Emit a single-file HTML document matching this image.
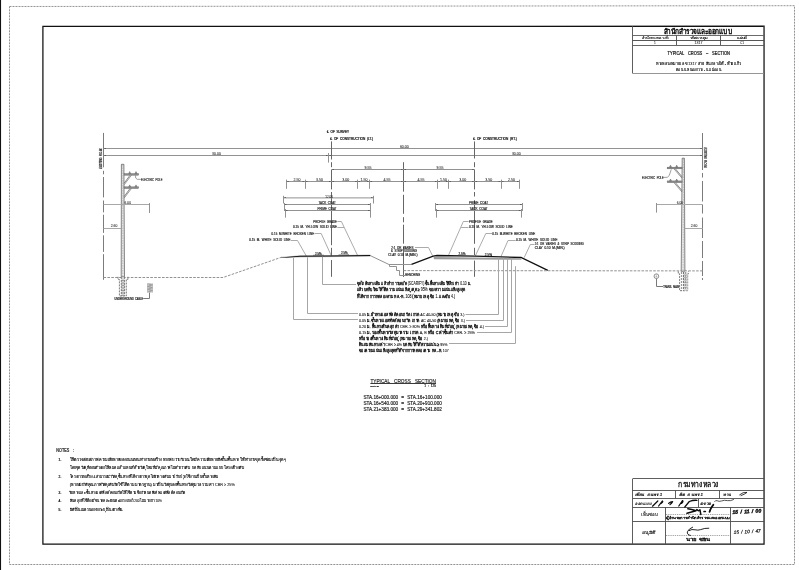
<!DOCTYPE html>
<html lang="th"><head><meta charset="utf-8"><title>Typical Cross - Section</title>
<style>
html,body{margin:0;padding:0;background:#fff;}
body{width:799px;height:570px;overflow:hidden;}
svg{display:block;will-change:transform;filter:grayscale(1);font-family:"Liberation Sans","DejaVu Sans",sans-serif;}
text{fill:#1c1c1c;stroke:#1c1c1c;stroke-width:.17px;white-space:pre;word-spacing:.9px;}
.d{stroke:#222;stroke-width:.05px;fill:#222;}
.th{fill:#111;stroke:#111;stroke-width:.26px;word-spacing:0;}
.tl{fill:#1a1a1a;stroke:#1a1a1a;stroke-width:.14px;word-spacing:0;}
.tb{fill:#111;stroke:#111;stroke-width:.1px;word-spacing:0;}
.tm{stroke-width:.22px;}
.tn{fill:#151515;stroke:#151515;stroke-width:.16px;word-spacing:0;}
.lt{stroke-width:.1px;fill:#222;}
.hw{font-style:italic;fill:#111;}
.ti{font-style:italic;fill:#111;stroke:#111;stroke-width:.2px;word-spacing:0;}
.tt{fill:#111;stroke:#111;stroke-width:.42px;word-spacing:0;}
.hw2{font-style:italic;stroke-width:.18px;}
.hb{stroke:#111;stroke-width:.4px;}
.hc{stroke:#111;stroke-width:.2px;}
</style></head><body>
<svg width="799" height="570" viewBox="0 0 799 570">
<rect x="0" y="0" width="799" height="570" fill="#fff"/>
<rect x="0" y="0" width="1.05" height="570" fill="#111"/>
<path d="M9.5 6.5 L794.5 5.7 L794.5 564.5 L9.5 564.5 Z" fill="none" stroke="#808080" stroke-width="0.85" stroke-linejoin="miter" stroke-dasharray="2 1"/>
<path d="M42.9 26.4 L764.05 26.2 L764.05 544.15 L42.9 544.15 Z" fill="none" stroke="#111" stroke-width="1.25" stroke-linejoin="miter"/>
<line x1="632.5" y1="26" x2="632.5" y2="73.4" stroke="#4c4c4c" stroke-width="0.9"/>
<line x1="632.6" y1="35.5" x2="764" y2="35.5" stroke="#5a5a5a" stroke-width="0.9"/>
<line x1="632.6" y1="40.5" x2="764" y2="40.5" stroke="#444" stroke-width="0.9"/>
<line x1="632.6" y1="45.5" x2="764" y2="45.5" stroke="#555" stroke-width="0.9"/>
<line x1="632.6" y1="73.5" x2="764" y2="73.5" stroke="#8a8a8a" stroke-width="0.9"/>
<line x1="676.5" y1="35.6" x2="676.5" y2="45" stroke="#4c4c4c" stroke-width="0.9"/>
<line x1="720.5" y1="35.6" x2="720.5" y2="45" stroke="#4c4c4c" stroke-width="0.9"/>
<text x="698.1" y="34" font-size="7.3" textLength="68.6" lengthAdjust="spacingAndGlyphs" text-anchor="middle" class="tt">สำนักสำรวจและออกแบบ</text>
<text x="655" y="39.4" font-size="3.6" textLength="26" lengthAdjust="spacingAndGlyphs" text-anchor="middle" class="tl">สำนักทางหลวงที่</text>
<text x="698.5" y="39.4" font-size="3.6" textLength="18" lengthAdjust="spacingAndGlyphs" text-anchor="middle" class="tl">รหัสควบคุม</text>
<text x="742" y="39.4" font-size="3.6" textLength="9.5" lengthAdjust="spacingAndGlyphs" text-anchor="middle" class="tl">แผ่นที่</text>
<text x="655" y="44" font-size="3.2" text-anchor="middle" class="d">1</text>
<text x="698.5" y="44" font-size="3.2" textLength="8" lengthAdjust="spacingAndGlyphs" text-anchor="middle" class="d">1317</text>
<text x="742" y="44" font-size="3.2" textLength="4" lengthAdjust="spacingAndGlyphs" text-anchor="middle" class="d">C1</text>
<text x="667.5" y="55.1" font-size="4.7" textLength="62.5" lengthAdjust="spacingAndGlyphs" class="tm">TYPICAL  CROSS  –  SECTION</text>
<text x="656" y="65.4" font-size="4.4" textLength="85" lengthAdjust="spacingAndGlyphs" class="tn">ทางหลวงหมายเลข <tspan class="lt">1317</tspan> สาย สันกลางใต้ - ห้วยแก้ว</text>
<text x="676" y="70.5" font-size="4.4" textLength="45" lengthAdjust="spacingAndGlyphs" class="tn">ตอน บ.หนองกวาง - บ.แม่ออน</text>
<line x1="103.5" y1="132.9" x2="103.5" y2="167.3" stroke="#7c7c7c" stroke-width="1"/>
<line x1="103.5" y1="170.8" x2="103.5" y2="174.3" stroke="#7c7c7c" stroke-width="1"/>
<line x1="103.5" y1="177" x2="103.5" y2="197.4" stroke="#7c7c7c" stroke-width="1"/>
<line x1="103.5" y1="200.5" x2="103.5" y2="212.4" stroke="#7c7c7c" stroke-width="1"/>
<line x1="103.5" y1="214.7" x2="103.5" y2="232.9" stroke="#7c7c7c" stroke-width="1"/>
<line x1="103.5" y1="235.3" x2="103.5" y2="251.9" stroke="#7c7c7c" stroke-width="1"/>
<line x1="103.5" y1="254.2" x2="103.5" y2="279.8" stroke="#7c7c7c" stroke-width="1"/>
<line x1="702.5" y1="133" x2="702.5" y2="170" stroke="#7c7c7c" stroke-width="1"/>
<line x1="702.5" y1="173" x2="702.5" y2="177.5" stroke="#7c7c7c" stroke-width="1"/>
<line x1="702.5" y1="181" x2="702.5" y2="201.5" stroke="#7c7c7c" stroke-width="1"/>
<line x1="702.5" y1="205" x2="702.5" y2="213.5" stroke="#7c7c7c" stroke-width="1"/>
<line x1="702.5" y1="217.5" x2="702.5" y2="238" stroke="#7c7c7c" stroke-width="1"/>
<line x1="702.5" y1="241" x2="702.5" y2="258" stroke="#7c7c7c" stroke-width="1"/>
<line x1="702.5" y1="261" x2="702.5" y2="276" stroke="#7c7c7c" stroke-width="1"/>
<line x1="702.5" y1="278" x2="702.5" y2="280" stroke="#7c7c7c" stroke-width="1"/>
<line x1="103.5" y1="148.5" x2="702.8" y2="148.5" stroke="#929292" stroke-width="1"/>
<line x1="103.5" y1="155.5" x2="702.8" y2="155.5" stroke="#929292" stroke-width="1"/>
<text x="216.5" y="155" font-size="3.4" textLength="8.8" lengthAdjust="spacingAndGlyphs" text-anchor="middle" class="d">30.00</text>
<text x="404.3" y="148" font-size="3.4" textLength="8.8" lengthAdjust="spacingAndGlyphs" text-anchor="middle" class="d">60.00</text>
<text x="516.3" y="155" font-size="3.4" textLength="8.8" lengthAdjust="spacingAndGlyphs" text-anchor="middle" class="d">30.00</text>
<text x="102.1" y="168.8" font-size="2.7" textLength="20.6" lengthAdjust="spacingAndGlyphs" transform="rotate(-90 102.1 168.8)" class="hw2">EXISTING R.O.W.</text>
<text x="704.4" y="147.6" font-size="2.7" textLength="20.4" lengthAdjust="spacingAndGlyphs" transform="rotate(90 704.4 147.6)" class="hw2">EXISTING R.O.W.</text>
<line x1="328.5" y1="153" x2="328.5" y2="162.6" stroke="#929292" stroke-width="1"/>
<line x1="331.5" y1="141.4" x2="331.5" y2="159.5" stroke="#666" stroke-width="1"/>
<line x1="331.5" y1="162.2" x2="331.5" y2="167.2" stroke="#666" stroke-width="1"/>
<line x1="331.5" y1="169.8" x2="331.5" y2="189.4" stroke="#666" stroke-width="1"/>
<line x1="331.5" y1="192" x2="331.5" y2="245.2" stroke="#666" stroke-width="1"/>
<line x1="331.5" y1="247.8" x2="331.5" y2="255.6" stroke="#666" stroke-width="1"/>
<line x1="331.5" y1="260" x2="331.5" y2="276.8" stroke="#666" stroke-width="1"/>
<line x1="403.5" y1="162.2" x2="403.5" y2="191.7" stroke="#666" stroke-width="1"/>
<line x1="403.5" y1="194.8" x2="403.5" y2="213.8" stroke="#666" stroke-width="1"/>
<line x1="403.5" y1="217.2" x2="403.5" y2="222.3" stroke="#666" stroke-width="1"/>
<line x1="403.5" y1="224.7" x2="403.5" y2="243.7" stroke="#666" stroke-width="1"/>
<line x1="403.5" y1="246.8" x2="403.5" y2="277" stroke="#666" stroke-width="1"/>
<line x1="474.5" y1="141.4" x2="474.5" y2="158.5" stroke="#666" stroke-width="1"/>
<line x1="474.5" y1="162.2" x2="474.5" y2="167.2" stroke="#666" stroke-width="1"/>
<line x1="474.5" y1="169.8" x2="474.5" y2="189.4" stroke="#666" stroke-width="1"/>
<line x1="474.5" y1="192" x2="474.5" y2="196.5" stroke="#666" stroke-width="1"/>
<line x1="474.5" y1="200.2" x2="474.5" y2="243.8" stroke="#666" stroke-width="1"/>
<line x1="474.5" y1="247.8" x2="474.5" y2="255" stroke="#666" stroke-width="1"/>
<line x1="474.5" y1="260.6" x2="474.5" y2="276.8" stroke="#666" stroke-width="1"/>
<text x="326.9" y="133.3" font-size="3.5" textLength="22.1" lengthAdjust="spacingAndGlyphs" class="tm">℄ OF SURVEY</text>
<text x="330.2" y="140" font-size="3.5" textLength="42.8" lengthAdjust="spacingAndGlyphs" class="tm">℄ OF CONSTRUCTION (LT.)</text>
<text x="473.2" y="140" font-size="3.5" textLength="43.6" lengthAdjust="spacingAndGlyphs" class="tm">℄ OF CONSTRUCTION (RT.)</text>
<line x1="331.4" y1="169.5" x2="474.7" y2="169.5" stroke="#929292" stroke-width="1"/>
<text x="368" y="169" font-size="3.4" textLength="7" lengthAdjust="spacingAndGlyphs" text-anchor="middle" class="d">9.55</text>
<text x="440" y="169" font-size="3.4" textLength="7" lengthAdjust="spacingAndGlyphs" text-anchor="middle" class="d">9.55</text>
<line x1="286.3" y1="181.5" x2="519.5" y2="181.5" stroke="#929292" stroke-width="1"/>
<line x1="286.5" y1="179.6" x2="286.5" y2="188.8" stroke="#929292" stroke-width="1"/>
<line x1="305.5" y1="179.6" x2="305.5" y2="188.8" stroke="#929292" stroke-width="1"/>
<line x1="357.5" y1="179.6" x2="357.5" y2="188.8" stroke="#929292" stroke-width="1"/>
<line x1="369.5" y1="179.6" x2="369.5" y2="188.8" stroke="#929292" stroke-width="1"/>
<line x1="437.5" y1="179.6" x2="437.5" y2="188.8" stroke="#929292" stroke-width="1"/>
<line x1="448.5" y1="179.6" x2="448.5" y2="188.8" stroke="#929292" stroke-width="1"/>
<line x1="501.5" y1="179.6" x2="501.5" y2="188.8" stroke="#929292" stroke-width="1"/>
<line x1="519.5" y1="179.6" x2="519.5" y2="188.8" stroke="#929292" stroke-width="1"/>
<text x="297" y="180.7" font-size="3.4" textLength="7" lengthAdjust="spacingAndGlyphs" text-anchor="middle" class="d">2.50</text>
<text x="319.5" y="180.7" font-size="3.4" textLength="7" lengthAdjust="spacingAndGlyphs" text-anchor="middle" class="d">3.50</text>
<text x="345.8" y="180.7" font-size="3.4" textLength="7" lengthAdjust="spacingAndGlyphs" text-anchor="middle" class="d">3.00</text>
<text x="364" y="180.7" font-size="3.4" textLength="7" lengthAdjust="spacingAndGlyphs" text-anchor="middle" class="d">1.50</text>
<text x="387" y="180.7" font-size="3.4" textLength="7" lengthAdjust="spacingAndGlyphs" text-anchor="middle" class="d">4.55</text>
<text x="421" y="180.7" font-size="3.4" textLength="7" lengthAdjust="spacingAndGlyphs" text-anchor="middle" class="d">4.55</text>
<text x="443.5" y="180.7" font-size="3.4" textLength="7" lengthAdjust="spacingAndGlyphs" text-anchor="middle" class="d">1.50</text>
<text x="462.8" y="180.7" font-size="3.4" textLength="7" lengthAdjust="spacingAndGlyphs" text-anchor="middle" class="d">3.00</text>
<text x="488.8" y="180.7" font-size="3.4" textLength="7" lengthAdjust="spacingAndGlyphs" text-anchor="middle" class="d">3.50</text>
<text x="511.4" y="180.7" font-size="3.4" textLength="7" lengthAdjust="spacingAndGlyphs" text-anchor="middle" class="d">2.50</text>
<line x1="283.5" y1="197.9" x2="373.5" y2="197.9" stroke="#929292" stroke-width="1"/>
<line x1="283.5" y1="195.8" x2="283.5" y2="203.5" stroke="#929292" stroke-width="1"/>
<line x1="373.5" y1="195.8" x2="373.5" y2="203.5" stroke="#929292" stroke-width="1"/>
<text x="329.1" y="198" font-size="3.2" textLength="7.6" lengthAdjust="spacingAndGlyphs" text-anchor="middle" class="d">12.00</text>
<line x1="284" y1="204.5" x2="370.5" y2="204.5" stroke="#929292" stroke-width="1"/>
<line x1="284.5" y1="203" x2="284.5" y2="211" stroke="#929292" stroke-width="1"/>
<line x1="370.5" y1="203" x2="370.5" y2="211" stroke="#929292" stroke-width="1"/>
<text x="327.2" y="204" font-size="3.3" textLength="17.4" lengthAdjust="spacingAndGlyphs" text-anchor="middle">TACK COAT</text>
<line x1="285" y1="210.5" x2="370.5" y2="210.5" stroke="#929292" stroke-width="1"/>
<line x1="285.5" y1="209" x2="285.5" y2="217.6" stroke="#929292" stroke-width="1"/>
<line x1="370.5" y1="209" x2="370.5" y2="217.6" stroke="#929292" stroke-width="1"/>
<text x="327" y="209.5" font-size="3.3" textLength="19" lengthAdjust="spacingAndGlyphs" text-anchor="middle">PRIME COAT</text>
<line x1="435.6" y1="204.5" x2="522.5" y2="204.5" stroke="#929292" stroke-width="1"/>
<line x1="435.5" y1="203" x2="435.5" y2="211" stroke="#929292" stroke-width="1"/>
<line x1="522.5" y1="203" x2="522.5" y2="211" stroke="#929292" stroke-width="1"/>
<text x="478.6" y="204" font-size="3.3" textLength="19" lengthAdjust="spacingAndGlyphs" text-anchor="middle">PRIME COAT</text>
<line x1="436" y1="210.5" x2="521.2" y2="210.5" stroke="#929292" stroke-width="1"/>
<line x1="436.5" y1="209" x2="436.5" y2="217.6" stroke="#929292" stroke-width="1"/>
<line x1="521.5" y1="209" x2="521.5" y2="217.6" stroke="#929292" stroke-width="1"/>
<text x="478.6" y="209.5" font-size="3.3" textLength="18" lengthAdjust="spacingAndGlyphs" text-anchor="middle">TACK COAT</text>
<path d="M103.5 148.5 L105.9 147.95 L105.9 149.05 Z" fill="#4a4a4a"/>
<path d="M702.8 148.5 L700.4 147.95 L700.4 149.05 Z" fill="#4a4a4a"/>
<path d="M103.5 155.5 L105.9 154.95 L105.9 156.05 Z" fill="#4a4a4a"/>
<path d="M328.4 155.5 L326.0 154.95 L326.0 156.05 Z" fill="#4a4a4a"/>
<path d="M328.4 155.5 L330.79999999999995 154.95 L330.79999999999995 156.05 Z" fill="#4a4a4a"/>
<path d="M702.8 155.5 L700.4 154.95 L700.4 156.05 Z" fill="#4a4a4a"/>
<path d="M331.4 169.5 L333.79999999999995 168.95 L333.79999999999995 170.05 Z" fill="#4a4a4a"/>
<path d="M403.6 169.5 L401.20000000000005 168.95 L401.20000000000005 170.05 Z" fill="#4a4a4a"/>
<path d="M403.6 169.5 L406.0 168.95 L406.0 170.05 Z" fill="#4a4a4a"/>
<path d="M474.7 169.5 L472.3 168.95 L472.3 170.05 Z" fill="#4a4a4a"/>
<path d="M103.5 204.5 L105.9 203.95 L105.9 205.05 Z" fill="#4a4a4a"/>
<path d="M149.4 204.5 L147.0 203.95 L147.0 205.05 Z" fill="#4a4a4a"/>
<path d="M656.5 204.5 L658.9 203.95 L658.9 205.05 Z" fill="#4a4a4a"/>
<path d="M702.8 204.5 L700.4 203.95 L700.4 205.05 Z" fill="#4a4a4a"/>
<path d="M103.5 228.5 L105.9 227.95 L105.9 229.05 Z" fill="#4a4a4a"/>
<path d="M121.3 228.5 L118.89999999999999 227.95 L118.89999999999999 229.05 Z" fill="#4a4a4a"/>
<path d="M684.8 228.5 L687.1999999999999 227.95 L687.1999999999999 229.05 Z" fill="#4a4a4a"/>
<path d="M702.8 228.5 L700.4 227.95 L700.4 229.05 Z" fill="#4a4a4a"/>
<path d="M283.5 197.5 L285.9 196.95 L285.9 198.05 Z" fill="#4a4a4a"/>
<path d="M373.5 197.5 L371.1 196.95 L371.1 198.05 Z" fill="#4a4a4a"/>
<path d="M284 204.5 L286.4 203.95 L286.4 205.05 Z" fill="#4a4a4a"/>
<path d="M370.5 204.5 L368.1 203.95 L368.1 205.05 Z" fill="#4a4a4a"/>
<path d="M285 210.5 L287.4 209.95 L287.4 211.05 Z" fill="#4a4a4a"/>
<path d="M370.5 210.5 L368.1 209.95 L368.1 211.05 Z" fill="#4a4a4a"/>
<path d="M435.6 204.5 L438.0 203.95 L438.0 205.05 Z" fill="#4a4a4a"/>
<path d="M522.5 204.5 L520.1 203.95 L520.1 205.05 Z" fill="#4a4a4a"/>
<path d="M436 210.5 L438.4 209.95 L438.4 211.05 Z" fill="#4a4a4a"/>
<path d="M521.2 210.5 L518.8000000000001 209.95 L518.8000000000001 211.05 Z" fill="#4a4a4a"/>
<path d="M286.3 181.5 L288.7 180.95 L288.7 182.05 Z" fill="#4a4a4a"/>
<path d="M305 181.5 L302.6 180.95 L302.6 182.05 Z" fill="#4a4a4a"/>
<path d="M305 181.5 L307.4 180.95 L307.4 182.05 Z" fill="#4a4a4a"/>
<path d="M331.4 181.5 L329.0 180.95 L329.0 182.05 Z" fill="#4a4a4a"/>
<path d="M331.4 181.5 L333.79999999999995 180.95 L333.79999999999995 182.05 Z" fill="#4a4a4a"/>
<path d="M357.7 181.5 L355.3 180.95 L355.3 182.05 Z" fill="#4a4a4a"/>
<path d="M357.7 181.5 L360.09999999999997 180.95 L360.09999999999997 182.05 Z" fill="#4a4a4a"/>
<path d="M369.5 181.5 L367.1 180.95 L367.1 182.05 Z" fill="#4a4a4a"/>
<path d="M369.5 181.5 L371.9 180.95 L371.9 182.05 Z" fill="#4a4a4a"/>
<path d="M403.6 181.5 L401.20000000000005 180.95 L401.20000000000005 182.05 Z" fill="#4a4a4a"/>
<path d="M403.6 181.5 L406.0 180.95 L406.0 182.05 Z" fill="#4a4a4a"/>
<path d="M437.4 181.5 L435.0 180.95 L435.0 182.05 Z" fill="#4a4a4a"/>
<path d="M437.4 181.5 L439.79999999999995 180.95 L439.79999999999995 182.05 Z" fill="#4a4a4a"/>
<path d="M448.4 181.5 L446.0 180.95 L446.0 182.05 Z" fill="#4a4a4a"/>
<path d="M448.4 181.5 L450.79999999999995 180.95 L450.79999999999995 182.05 Z" fill="#4a4a4a"/>
<path d="M474.7 181.5 L472.3 180.95 L472.3 182.05 Z" fill="#4a4a4a"/>
<path d="M474.7 181.5 L477.09999999999997 180.95 L477.09999999999997 182.05 Z" fill="#4a4a4a"/>
<path d="M501 181.5 L498.6 180.95 L498.6 182.05 Z" fill="#4a4a4a"/>
<path d="M501 181.5 L503.4 180.95 L503.4 182.05 Z" fill="#4a4a4a"/>
<path d="M519.5 181.5 L517.1 180.95 L517.1 182.05 Z" fill="#4a4a4a"/>
<text x="313.3" y="222.5" font-size="3.3" textLength="23.7" lengthAdjust="spacingAndGlyphs">PROFILE GRADE</text>
<path d="M337.3 221.5 L341.4 221.5 L357.5 255.3" fill="none" stroke="#a2a2a2" stroke-width="0.9" stroke-linejoin="miter"/>
<text x="293" y="228.2" font-size="3.3" textLength="44" lengthAdjust="spacingAndGlyphs">0.15 M. YELLOW SOLID LINE</text>
<path d="M337.3 227.5 L344 227.5" fill="none" stroke="#a2a2a2" stroke-width="0.9" stroke-linejoin="miter"/>
<text x="271.6" y="234.8" font-size="3.3" textLength="42.6" lengthAdjust="spacingAndGlyphs">0.15 M.WHITE BROKEN LINE</text>
<path d="M314.5 233.5 L321.2 233.5 L331.2 255.5" fill="none" stroke="#a2a2a2" stroke-width="0.9" stroke-linejoin="miter"/>
<text x="249.3" y="241.2" font-size="3.3" textLength="41.2" lengthAdjust="spacingAndGlyphs">0.15 M. WHITE SOLID LINE</text>
<path d="M290.8 240.5 L297.5 240.5 L306.3 256" fill="none" stroke="#a2a2a2" stroke-width="0.9" stroke-linejoin="miter"/>
<text x="469" y="222.9" font-size="3.3" textLength="23.7" lengthAdjust="spacingAndGlyphs">PROFILE GRADE</text>
<path d="M468.6 221.5 L463.3 221.5 L448.4 255.5" fill="none" stroke="#a2a2a2" stroke-width="0.9" stroke-linejoin="miter"/>
<text x="469" y="228.2" font-size="3.3" textLength="43.8" lengthAdjust="spacingAndGlyphs">0.15 M. YELLOW SOLID LINE</text>
<path d="M468.6 227.5 L461.2 227.5" fill="none" stroke="#a2a2a2" stroke-width="0.9" stroke-linejoin="miter"/>
<text x="492.3" y="234.8" font-size="3.3" textLength="43" lengthAdjust="spacingAndGlyphs">0.15 M.WHITE BROKEN LINE</text>
<path d="M492 233.5 L485.8 233.5 L475.3 255.9" fill="none" stroke="#a2a2a2" stroke-width="0.9" stroke-linejoin="miter"/>
<text x="516" y="241.2" font-size="3.3" textLength="41.5" lengthAdjust="spacingAndGlyphs">0.15 M. WHITE SOLID LINE</text>
<path d="M515.7 240.5 L508 240.5 L501 256.5" fill="none" stroke="#a2a2a2" stroke-width="0.9" stroke-linejoin="miter"/>
<text x="534.7" y="245.2" font-size="3.3" textLength="49" lengthAdjust="spacingAndGlyphs">2:1 OR VARIES &amp; STRIP SODDING</text>
<text x="534.7" y="249.3" font-size="3.3" textLength="30" lengthAdjust="spacingAndGlyphs">CLAY 0.10 M.(MIN.)</text>
<path d="M534.4 244.5 L530.3 244.5 L524.2 257.6" fill="none" stroke="#a2a2a2" stroke-width="0.9" stroke-linejoin="miter"/>
<text x="391.2" y="248.9" font-size="3.1" textLength="22.3" lengthAdjust="spacingAndGlyphs">2:1 OR VARIES</text>
<text x="391" y="251.9" font-size="3.1" textLength="26" lengthAdjust="spacingAndGlyphs">&amp; STRIP SODDING</text>
<text x="388.2" y="255.6" font-size="3.1" textLength="29.3" lengthAdjust="spacingAndGlyphs">CLAY 0.10 M.(MIN.)</text>
<path d="M415 247.5 L428.5 247.5 L432.5 255.8" fill="none" stroke="#a2a2a2" stroke-width="0.9" stroke-linejoin="miter"/>
<path d="M103.5 277.5 L223 277.5 L281.3 257.3" fill="none" stroke="#929292" stroke-width="1" stroke-linejoin="miter" stroke-dasharray="2.6 1.3"/>
<path d="M281 257.4 L300 255.85 L331.5 255.6 L370.3 255.1 L370.3 256.1 L331.5 256.6 L300 256.85 L287 257.6 Z" fill="#111" stroke="#111" stroke-width="0.3" stroke-linejoin="miter"/>
<line x1="313" y1="255.3" x2="324" y2="255.2" stroke="#444" stroke-width="0.6"/>
<line x1="338.5" y1="254.9" x2="349" y2="254.7" stroke="#444" stroke-width="0.6"/>
<text x="318.3" y="254.9" font-size="3.1" textLength="6.7" lengthAdjust="spacingAndGlyphs" text-anchor="middle">2.5%</text>
<text x="344.3" y="254.2" font-size="3.1" textLength="6.7" lengthAdjust="spacingAndGlyphs" text-anchor="middle">2.5%</text>
<path d="M370.3 255.6 L389 264.5 L411.5 264.5" fill="none" stroke="#929292" stroke-width="1" stroke-linejoin="miter"/>
<path d="M411.5 264.3 L433.2 256.1 L437 255.5 L475 256.2 L521 257.5 L547.8 270.4" fill="none" stroke="#111" stroke-width="1.3" stroke-linejoin="miter"/>
<path d="M433.5 257 L521 258.2 L521.5 259.8 L434 259.3 Z" fill="#9a9a9a"/>
<text x="462" y="255.1" font-size="3.1" textLength="6.9" lengthAdjust="spacingAndGlyphs" text-anchor="middle">2.5%</text>
<text x="488.4" y="255.6" font-size="3.1" textLength="7.2" lengthAdjust="spacingAndGlyphs" text-anchor="middle">2.5%</text>
<path d="M389.5 264.3 L389.5 266.5 L396.5 266.5 L396.5 270.5 L399.5 270.5 L399.5 275.5 L405 275.5" fill="none" stroke="#929292" stroke-width="1" stroke-linejoin="miter"/>
<text x="405.3" y="276.1" font-size="3.1" textLength="14.8" lengthAdjust="spacingAndGlyphs">BENCHING</text>
<line x1="403.6" y1="270.6" x2="702.8" y2="270.9" stroke="#929292" stroke-width="1" stroke-dasharray="2.6 1.3"/>
<path d="M121.4 164.3 L123.9 164.3 L124.5 276.8 L121.2 276.8 Z" fill="#e6e6e6" stroke="#555" stroke-width="0.7" stroke-linejoin="miter"/>
<line x1="122.8" y1="165" x2="122.8" y2="276.8" stroke="#999" stroke-width="0.5" stroke-dasharray="1.5 1"/>
<rect x="124" y="173.5" width="14.7" height="1.8" fill="#8a8a8a" stroke="#555" stroke-width="0.3"/>
<line x1="129.9" y1="175.4" x2="124.2" y2="183.20000000000002" stroke="#555" stroke-width="0.7"/>
<line x1="131.3" y1="175.4" x2="124.3" y2="184.6" stroke="#555" stroke-width="0.6"/>
<path d="M128.79999999999998 173.5 L129.7 171.6 L130.6 173.5 Z" fill="#aaa" stroke="#555" stroke-width="0.5" stroke-linejoin="miter"/>
<path d="M135.1 173.5 L136 171.6 L136.9 173.5 Z" fill="#aaa" stroke="#555" stroke-width="0.5" stroke-linejoin="miter"/>
<rect x="124" y="186.79999999999998" width="14.7" height="1.8" fill="#8a8a8a" stroke="#555" stroke-width="0.3"/>
<line x1="129.9" y1="188.7" x2="124.2" y2="196.5" stroke="#555" stroke-width="0.7"/>
<line x1="131.3" y1="188.7" x2="124.3" y2="197.89999999999998" stroke="#555" stroke-width="0.6"/>
<path d="M128.79999999999998 186.79999999999998 L129.7 184.89999999999998 L130.6 186.79999999999998 Z" fill="#aaa" stroke="#555" stroke-width="0.5" stroke-linejoin="miter"/>
<path d="M135.1 186.79999999999998 L136 184.89999999999998 L136.9 186.79999999999998 Z" fill="#aaa" stroke="#555" stroke-width="0.5" stroke-linejoin="miter"/>
<path d="M135.5 175.4 L135.7 178 L137.2 179.3 L140.8 179.4" fill="none" stroke="#777" stroke-width="0.7" stroke-linejoin="miter"/>
<text x="141" y="180.6" font-size="3.3" textLength="21.4" lengthAdjust="spacingAndGlyphs">ELECTRIC POLE</text>
<line x1="103.5" y1="204.5" x2="149.4" y2="204.5" stroke="#a8a8a8" stroke-width="1"/>
<line x1="149.5" y1="203" x2="149.5" y2="213" stroke="#929292" stroke-width="1"/>
<text x="127.8" y="204.3" font-size="3.4" textLength="6.4" lengthAdjust="spacingAndGlyphs" text-anchor="middle" class="d">6.00</text>
<line x1="103.5" y1="228.5" x2="121" y2="228.5" stroke="#a8a8a8" stroke-width="1"/>
<text x="114" y="227.2" font-size="3.4" textLength="6.6" lengthAdjust="spacingAndGlyphs" text-anchor="middle" class="d">2.60</text>
<path d="M118 276.8 L118 279.5 L119.4 279.5 L119.4 296 L126.3 296 L126.3 279.5 L127.9 279.5 L127.9 276.8" fill="none" stroke="#5c5c5c" stroke-width="0.8" stroke-linejoin="miter" stroke-dasharray="2 1"/>
<rect x="121.3" y="277" width="3.3" height="18.6" fill="#d4d4d4"/>
<line x1="121.3" y1="277" x2="121.3" y2="295.8" stroke="#5c5c5c" stroke-width="0.7" stroke-dasharray="2 1"/>
<line x1="124.6" y1="277" x2="124.6" y2="295.8" stroke="#5c5c5c" stroke-width="0.7" stroke-dasharray="2 1"/>
<line x1="121.3" y1="280.5" x2="124.6" y2="280.5" stroke="#666" stroke-width="0.5"/>
<line x1="121.3" y1="283" x2="124.6" y2="283" stroke="#666" stroke-width="0.5"/>
<line x1="121.3" y1="285.5" x2="124.6" y2="285.5" stroke="#666" stroke-width="0.5"/>
<line x1="121.3" y1="288" x2="124.6" y2="288" stroke="#666" stroke-width="0.5"/>
<line x1="121.3" y1="290.5" x2="124.6" y2="290.5" stroke="#666" stroke-width="0.5"/>
<line x1="121.3" y1="293" x2="124.6" y2="293" stroke="#666" stroke-width="0.5"/>
<line x1="121.3" y1="295.5" x2="124.6" y2="295.5" stroke="#666" stroke-width="0.5"/>
<rect x="147.6" y="283.4" width="4.8" height="9.2" fill="#d0d0d0"/>
<path d="M147.6 283.6 L152.4 285 L147.6 286.4 L152.4 287.8 L147.6 289.2 L152.4 290.6 L147.6 292" fill="none" stroke="#777" stroke-width="0.45" stroke-linejoin="miter"/>
<line x1="147.6" y1="283.4" x2="147.6" y2="292.6" stroke="#888" stroke-width="0.5"/>
<line x1="152.4" y1="283.4" x2="152.4" y2="292.6" stroke="#888" stroke-width="0.5"/>
<line x1="150" y1="283.4" x2="150" y2="292.6" stroke="#888" stroke-width="0.5"/>
<path d="M149.5 292.6 L149.5 298.5 L143.2 298.5" fill="none" stroke="#7a7a7a" stroke-width="1" stroke-linejoin="miter"/>
<text x="114.5" y="300" font-size="3.6" textLength="28.5" lengthAdjust="spacingAndGlyphs" class="tm">UNDERGROUND CABLE</text>
<path d="M682.2 158.2 L684.4 158.2 L684.9 271.2 L681.2 271.2 Z" fill="#e6e6e6" stroke="#555" stroke-width="0.7" stroke-linejoin="miter"/>
<line x1="683.4" y1="159" x2="683.1" y2="271" stroke="#999" stroke-width="0.5" stroke-dasharray="1.5 1"/>
<rect x="667.1" y="167.1" width="15" height="1.8" fill="#8a8a8a" stroke="#555" stroke-width="0.3"/>
<line x1="675.5" y1="169" x2="682" y2="176.8" stroke="#555" stroke-width="0.7"/>
<line x1="674.1" y1="169" x2="682" y2="178.2" stroke="#555" stroke-width="0.6"/>
<path d="M669.6 167.1 L670.5 165.2 L671.4 167.1 Z" fill="#aaa" stroke="#555" stroke-width="0.5" stroke-linejoin="miter"/>
<path d="M675.8000000000001 167.1 L676.7 165.2 L677.6 167.1 Z" fill="#aaa" stroke="#555" stroke-width="0.5" stroke-linejoin="miter"/>
<rect x="667.1" y="180.9" width="15" height="1.8" fill="#8a8a8a" stroke="#555" stroke-width="0.3"/>
<line x1="675.5" y1="182.8" x2="682" y2="190.60000000000002" stroke="#555" stroke-width="0.7"/>
<line x1="674.1" y1="182.8" x2="682" y2="192.0" stroke="#555" stroke-width="0.6"/>
<path d="M669.6 180.9 L670.5 179.0 L671.4 180.9 Z" fill="#aaa" stroke="#555" stroke-width="0.5" stroke-linejoin="miter"/>
<path d="M675.8000000000001 180.9 L676.7 179.0 L677.6 180.9 Z" fill="#aaa" stroke="#555" stroke-width="0.5" stroke-linejoin="miter"/>
<path d="M671.3 169.4 L669.2 175.6 L667.3 177.3 L664 177.4" fill="none" stroke="#777" stroke-width="0.7" stroke-linejoin="miter"/>
<text x="642" y="178.6" font-size="3.3" textLength="21.8" lengthAdjust="spacingAndGlyphs">ELECTRIC POLE</text>
<line x1="656.5" y1="204.5" x2="702.8" y2="204.5" stroke="#a8a8a8" stroke-width="1"/>
<line x1="656.5" y1="203" x2="656.5" y2="212.6" stroke="#929292" stroke-width="1"/>
<text x="680" y="204.3" font-size="3.4" textLength="6.4" lengthAdjust="spacingAndGlyphs" text-anchor="middle" class="d">6.00</text>
<line x1="684.8" y1="228.5" x2="702.8" y2="228.5" stroke="#a8a8a8" stroke-width="1"/>
<text x="694" y="227.3" font-size="3.4" textLength="6.6" lengthAdjust="spacingAndGlyphs" text-anchor="middle" class="d">2.60</text>
<path d="M678.3 271.4 L678.3 273.8 L679.6 273.8 L679.6 290.7 L687.7 290.7 L687.7 273.8 L688.4 273.8 L688.4 271.4" fill="none" stroke="#5c5c5c" stroke-width="0.8" stroke-linejoin="miter" stroke-dasharray="2 1"/>
<rect x="683.4" y="272" width="4" height="18.4" fill="#dcdcdc"/>
<line x1="681.4" y1="272" x2="681.4" y2="290.5" stroke="#5c5c5c" stroke-width="0.7" stroke-dasharray="2 1"/>
<line x1="683.4" y1="272" x2="683.4" y2="290.5" stroke="#444" stroke-width="0.8" stroke-dasharray="2 1"/>
<line x1="685.5" y1="272" x2="685.5" y2="290.5" stroke="#777" stroke-width="0.6" stroke-dasharray="2 1"/>
<line x1="683.4" y1="275" x2="687.5" y2="275" stroke="#888" stroke-width="0.5"/>
<line x1="683.4" y1="277.5" x2="687.5" y2="277.5" stroke="#888" stroke-width="0.5"/>
<line x1="683.4" y1="280" x2="687.5" y2="280" stroke="#888" stroke-width="0.5"/>
<line x1="683.4" y1="282.5" x2="687.5" y2="282.5" stroke="#888" stroke-width="0.5"/>
<line x1="683.4" y1="285" x2="687.5" y2="285" stroke="#888" stroke-width="0.5"/>
<line x1="683.4" y1="287.5" x2="687.5" y2="287.5" stroke="#888" stroke-width="0.5"/>
<circle cx="656.4" cy="276.2" r="2.35" fill="none" stroke="#666" stroke-width="0.7"/>
<line x1="654.6" y1="276.2" x2="658.2" y2="276.2" stroke="#777" stroke-width="0.5" stroke-dasharray="0.9 0.6"/>
<line x1="656.4" y1="274.4" x2="656.4" y2="278" stroke="#777" stroke-width="0.5" stroke-dasharray="0.9 0.6"/>
<path d="M656.5 278.6 L656.5 286.5 L663 286.5" fill="none" stroke="#7a7a7a" stroke-width="1" stroke-linejoin="miter"/>
<text x="663.2" y="288" font-size="3.5" textLength="16" lengthAdjust="spacingAndGlyphs" class="tm">TRANS. MAIN</text>
<path d="M293.5 257.5 L293.5 319.5 L358 319.5" fill="none" stroke="#a6a6a6" stroke-width="1" stroke-linejoin="miter"/>
<path d="M307.5 257.3 L307.5 313.5 L358 313.5" fill="none" stroke="#a6a6a6" stroke-width="1" stroke-linejoin="miter"/>
<path d="M322.5 256.8 L322.5 284.5 L356 284.5" fill="none" stroke="#a6a6a6" stroke-width="1" stroke-linejoin="miter"/>
<path d="M465.5 314.5 L498.5 314.5 L498.5 257.5" fill="none" stroke="#a6a6a6" stroke-width="1" stroke-linejoin="miter"/>
<path d="M466 320.5 L503.5 320.5 L503.5 258" fill="none" stroke="#a6a6a6" stroke-width="1" stroke-linejoin="miter"/>
<path d="M485 326.5 L507.5 326.5 L507.5 258.2" fill="none" stroke="#a6a6a6" stroke-width="1" stroke-linejoin="miter"/>
<path d="M477 332.5 L511.5 332.5 L511.5 258.4" fill="none" stroke="#a6a6a6" stroke-width="1" stroke-linejoin="miter"/>
<path d="M449 343.5 L515.5 343.5 L515.5 266.2" fill="none" stroke="#a6a6a6" stroke-width="1" stroke-linejoin="miter"/>
<text x="356.7" y="284.6" font-size="4.6" textLength="114" lengthAdjust="spacingAndGlyphs" class="th">ขุดไถคันทางเดิม แล้วทำการบดอัด <tspan class="lt">(SCARIFY)</tspan> ชั้นพื้นทางเดิมให้ลึกเท่า <tspan class="lt">0.10</tspan> ม.</text>
<text x="356.7" y="291.2" font-size="4.6" textLength="108.5" lengthAdjust="spacingAndGlyphs" class="th">แล้วบดทับใหม่ให้ได้ความแน่นแห้งสูงสุด ≥ <tspan class="lt">95%</tspan> ของความแน่นแห้งสูงสุด</text>
<text x="356.7" y="297.8" font-size="4.6" textLength="98.5" lengthAdjust="spacingAndGlyphs" class="th">ที่ได้จากการทดลองตาม ทล.-ท. <tspan class="lt">108</tspan> (หมายเหตุ ข้อ <tspan class="lt">1.</tspan> และข้อ <tspan class="lt">4.)</tspan></text>
<text x="359" y="316" font-size="4.4" textLength="105.4" lengthAdjust="spacingAndGlyphs" class="th"><tspan class="lt">0.05</tspan> ม. ผิวทางแอสฟัลต์คอนกรีต เกรด <tspan class="lt">AC 40-50</tspan> (หมายเหตุ ข้อ <tspan class="lt">3.)</tspan></text>
<text x="359" y="322" font-size="4.4" textLength="106" lengthAdjust="spacingAndGlyphs" class="th"><tspan class="lt">0.05</tspan> ม. ชั้นทางแอสฟัลต์คอนกรีต เกรด <tspan class="lt">AC 40-50</tspan> (หมายเหตุ ข้อ <tspan class="lt">3.)</tspan></text>
<text x="359" y="328" font-size="4.4" textLength="125" lengthAdjust="spacingAndGlyphs" class="th"><tspan class="lt">0.20</tspan> ม. พื้นทางหินคลุกค่า <tspan class="lt">CBR. ≥ 80%</tspan> หรือพื้นทางเดิมที่มีอยู่ (หมายเหตุ ข้อ <tspan class="lt">4.)</tspan></text>
<text x="359" y="334" font-size="4.4" textLength="116" lengthAdjust="spacingAndGlyphs" class="th"><tspan class="lt">0.15</tspan> ม. รองพื้นทางวัสดุมวลรวม เกรด <tspan class="lt">A, B</tspan> หรือ C ค่าขั้นต่ำ <tspan class="lt">CBR. ≥ 25%</tspan></text>
<text x="359" y="340" font-size="4.4" textLength="69" lengthAdjust="spacingAndGlyphs" class="th">หรือรองพื้นทางเดิมที่มีอยู่ (หมายเหตุ ข้อ <tspan class="lt">2.)</tspan></text>
<text x="359" y="346" font-size="4.4" textLength="88.4" lengthAdjust="spacingAndGlyphs" class="th">ดินถมคันทาง ค่า <tspan class="lt">CBR ≥ 4%</tspan> บดทับให้ได้ความแน่น ≥ <tspan class="lt">95%</tspan></text>
<text x="359" y="352" font-size="4.4" textLength="89.6" lengthAdjust="spacingAndGlyphs" class="th">ของความแน่นแห้งสูงสุดที่ได้จากการทดลองตาม ทล.-ท. <tspan class="lt">107</tspan></text>
<text x="370.4" y="383" font-size="6.2" textLength="65.6" lengthAdjust="spacingAndGlyphs">TYPICAL  CROSS  SECTION</text>
<line x1="370.4" y1="383.5" x2="436" y2="383.5" stroke="#3a3a3a" stroke-width="1"/>
<text x="370.3" y="387" font-size="2.3" textLength="8.4" lengthAdjust="spacingAndGlyphs">SCALE</text>
<text x="424.2" y="387" font-size="2.6" textLength="11.8" lengthAdjust="spacingAndGlyphs">1 : 125</text>
<text x="363.4" y="399" font-size="4.8" textLength="34.8" lengthAdjust="spacingAndGlyphs">STA.16+000.000</text>
<text x="402.6" y="399" font-size="4.8" text-anchor="middle">=</text>
<text x="407.2" y="399" font-size="4.8" textLength="34.7" lengthAdjust="spacingAndGlyphs">STA.16+100.000</text>
<text x="363.4" y="405" font-size="4.8" textLength="34.8" lengthAdjust="spacingAndGlyphs">STA.16+540.000</text>
<text x="402.6" y="405" font-size="4.8" text-anchor="middle">=</text>
<text x="407.2" y="405" font-size="4.8" textLength="34.7" lengthAdjust="spacingAndGlyphs">STA.20+910.000</text>
<text x="363.4" y="411" font-size="4.8" textLength="34.8" lengthAdjust="spacingAndGlyphs">STA.21+383.000</text>
<text x="402.6" y="411" font-size="4.8" text-anchor="middle">=</text>
<text x="407.2" y="411" font-size="4.8" textLength="34.7" lengthAdjust="spacingAndGlyphs">STA.29+341.802</text>
<text x="56.3" y="452" font-size="4.9" textLength="17.5" lengthAdjust="spacingAndGlyphs" class="tm">NOTES  :</text>
<text x="58.6" y="461" font-size="3.3" class="tm">1.</text>
<text x="69.8" y="461" font-size="4.1" textLength="216.5" lengthAdjust="spacingAndGlyphs" class="tn">ให้ตรวจสอบสภาพความเสียหายของถนนก่อนทำการก่อสร้าง หากพบว่าบริเวณใดมีความเสียหายถึงชั้นพื้นทาง ให้ทำการขุดรื้อซ่อมเป็นจุด ๆ</text>
<text x="69.8" y="469" font-size="4.1" textLength="174.8" lengthAdjust="spacingAndGlyphs" class="tn">โดยขุดวัสดุที่อ่อนตัวออกให้หมดแล้วแทนที่ด้วยวัสดุใหม่ที่มีคุณภาพไม่ต่ำกว่าเดิม บดทับแน่นตามแบบโครงสร้างเดิม</text>
<text x="58.6" y="478" font-size="3.3" class="tm">2.</text>
<text x="69.8" y="478" font-size="4.1" textLength="149.2" lengthAdjust="spacingAndGlyphs" class="tn">โครงการก่อสร้าง <tspan class="lt">4</tspan> สามารถนำวัสดุชั้นทางที่ได้จากการขุดไถผิวทางเดิมมาปรับปรุงใช้งานเป็นชั้นทางเดิม</text>
<text x="69.8" y="486" font-size="4.1" textLength="165" lengthAdjust="spacingAndGlyphs" class="tn">(หากสมบัติคุณภาพวัสดุเดิมยังใช้ได้ตามมาตรฐาน) มาเป็นวัสดุรองพื้นทางวัสดุมวลรวม ค่า <tspan class="lt">CBR ≥ 25%</tspan></text>
<text x="58.6" y="494" font-size="3.3" class="tm">3.</text>
<text x="69.8" y="494" font-size="4.1" textLength="116" lengthAdjust="spacingAndGlyphs" class="tn">ผิวทางและชั้นทางแอสฟัลต์คอนกรีตให้ใช้ตามข้อกำหนดพิเศษแอสฟัลต์คอนกรีต</text>
<text x="58.6" y="502" font-size="3.3" class="tm">4.</text>
<text x="69.8" y="502" font-size="4.1" textLength="92" lengthAdjust="spacingAndGlyphs" class="tn">หินคลุกที่ใช้ต้องมีขนาดคละผ่านตะแกรง เบอร์ <tspan class="lt">200</tspan> ไม่มากกว่า <tspan class="lt">10%</tspan></text>
<text x="58.6" y="511" font-size="3.3" class="tm">5.</text>
<text x="69.8" y="511" font-size="4.1" textLength="53" lengthAdjust="spacingAndGlyphs" class="tn">มิติเป็นเมตรนอกจากระบุเป็นอย่างอื่น</text>
<line x1="632.5" y1="478.9" x2="632.5" y2="544" stroke="#4c4c4c" stroke-width="0.9"/>
<line x1="632.6" y1="478.5" x2="764" y2="478.5" stroke="#4c4c4c" stroke-width="0.9"/>
<line x1="632.6" y1="490.5" x2="764" y2="490.5" stroke="#4c4c4c" stroke-width="0.9"/>
<line x1="632.6" y1="498.5" x2="764" y2="498.5" stroke="#4c4c4c" stroke-width="0.9"/>
<line x1="632.6" y1="507.5" x2="764" y2="507.5" stroke="#4c4c4c" stroke-width="0.9"/>
<line x1="632.6" y1="521.5" x2="764" y2="521.5" stroke="#4c4c4c" stroke-width="0.9"/>
<line x1="675.5" y1="490.4" x2="675.5" y2="498.4" stroke="#4c4c4c" stroke-width="0.9"/>
<line x1="719.5" y1="490.4" x2="719.5" y2="498.4" stroke="#4c4c4c" stroke-width="0.9"/>
<line x1="698.5" y1="498.4" x2="698.5" y2="507" stroke="#4c4c4c" stroke-width="0.9"/>
<line x1="665.5" y1="507" x2="665.5" y2="544" stroke="#4c4c4c" stroke-width="0.9"/>
<line x1="730.5" y1="507" x2="730.5" y2="544" stroke="#4c4c4c" stroke-width="0.9"/>
<text x="698.5" y="487.3" font-size="7.6" textLength="40.6" lengthAdjust="spacingAndGlyphs" text-anchor="middle" class="th">กรมทางหลวง</text>
<text x="635.1" y="496" font-size="4.2" textLength="27.2" lengthAdjust="spacingAndGlyphs" class="ti">เขียน  ธนพร 1</text>
<text x="678.5" y="496" font-size="4.2" textLength="24.4" lengthAdjust="spacingAndGlyphs" class="ti">คิด  ธนพร 1</text>
<text x="722.6" y="496" font-size="4.2" textLength="8" lengthAdjust="spacingAndGlyphs" class="ti">ทาน</text>
<text x="635.1" y="505" font-size="4.2" textLength="16.2" lengthAdjust="spacingAndGlyphs" class="ti">ออกแบบ</text>
<text x="700" y="505" font-size="4.2" textLength="10.4" lengthAdjust="spacingAndGlyphs" class="ti">ตรวจ</text>
<text x="641" y="516" font-size="4.4" textLength="16.8" lengthAdjust="spacingAndGlyphs" class="tl">เห็นชอบ</text>
<text x="641.9" y="534" font-size="4.4" textLength="14" lengthAdjust="spacingAndGlyphs" class="tl">อนุมัติ</text>
<line x1="666" y1="514.5" x2="730" y2="514.5" stroke="#666" stroke-width="0.6" stroke-dasharray="1.3 0.9"/>
<line x1="666" y1="535.5" x2="730" y2="535.5" stroke="#666" stroke-width="0.6" stroke-dasharray="1.3 0.9"/>
<text x="666.3" y="519.1" font-size="3.6" textLength="63" lengthAdjust="spacingAndGlyphs" class="th">ผู้อำนวยการสำนักสำรวจและออกแบบ</text>
<text x="685.5" y="541.2" font-size="4.2" textLength="24.8" lengthAdjust="spacingAndGlyphs" class="th">นาย  ชยิน</text>
<text x="732.4" y="514" font-size="5.2" textLength="29" lengthAdjust="spacingAndGlyphs" font-weight="bold" transform="rotate(-3 732.4 514)" class="hw hb">15 / 11 / 00</text>
<text x="733.8" y="534" font-size="4.8" textLength="26.8" lengthAdjust="spacingAndGlyphs" transform="rotate(-3 733.8 534)" class="hw hc">15 / 10 / 47</text>
<path d="M652.5 506.2 L657.8 501 M658.6 506 L662.3 501 Q663.6 501.6 661 503.6 M668.6 503.4 Q670.4 501.6 672.6 501.6 Q671.6 503.2 670 504.6 M678.8 506 L682.5 500.6 Q683.8 501.4 681.4 503.4 M684.8 507 L689.3 501.5 Q693 500 697 500.3" fill="none" stroke="#0c0c0c" stroke-linecap="round" stroke-linejoin="round" stroke-width="1.25"/>
<path d="M714.6 501.6 Q715.6 499.8 717.4 500.8 Q719 501.8 721.4 501 Q724.6 499.8 727.4 500.6 Q730.4 501.2 733.6 499.6" fill="none" stroke="#0c0c0c" stroke-linecap="round" stroke-linejoin="round" stroke-width="0.7"/>
<path d="M739.6 494.8 Q743 491.8 747 492.4 Q744.6 494.4 741 495.6" fill="none" stroke="#0c0c0c" stroke-linecap="round" stroke-linejoin="round" stroke-width="0.8"/>
<path d="M687.8 508.8 Q692 509.4 696 510.8 Q691.6 512 687 513.2 M696.8 509.6 Q698.6 511.6 700 509.8 L700.8 514.4 M704 511.6 L705.4 511.4" fill="none" stroke="#0c0c0c" stroke-linecap="round" stroke-linejoin="round" stroke-width="1.5"/>
<path d="M713.3 504.8 Q710.6 508 709.6 511.8" fill="none" stroke="#0c0c0c" stroke-linecap="round" stroke-linejoin="round" stroke-width="1.8"/>
<path d="M692.6 527.2 Q689 528.6 687.4 531.6 Q686.8 535 690.4 535.4 M689 530.6 Q692 528.8 695 529.8 Q698 530.6 700.6 529.6 Q704.6 528 708.8 528.2" fill="none" stroke="#0c0c0c" stroke-linecap="round" stroke-linejoin="round" stroke-width="0.9"/>
</svg>
</body></html>
